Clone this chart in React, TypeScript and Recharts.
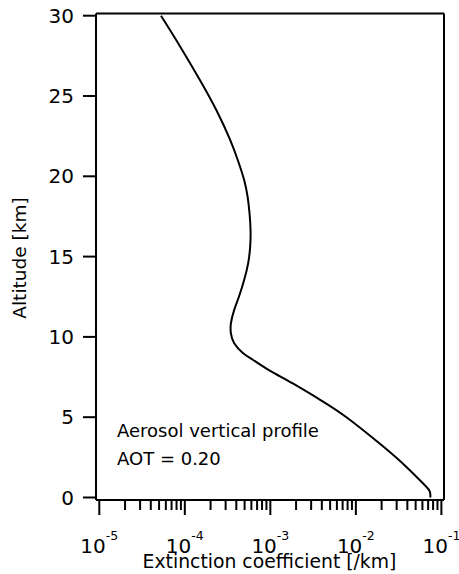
import React from "react";
import { LineChart, Line, XAxis, YAxis, ReferenceLine } from "recharts";

// Altitude [km] and extinction coefficient [/km]
const altitude = [0, 0.4, 0.9, 1.9, 3.2, 5.0, 6.1, 7.1, 7.9, 8.56, 8.98, 9.6, 10.22, 10.85, 11.68, 12.5, 13.54, 14.58, 15.62, 16.66, 17.7, 18.73, 19.77, 21.0, 22.3, 24.1, 26.0, 28.1, 30.0];
const extinction = [7.43e-2, 7.29e-2, 6.05e-2, 3.9e-2, 2.06e-2, 7.76e-3, 3.78e-3, 1.83e-3, 9.86e-4, 6.3e-4, 4.81e-4, 3.78e-4, 3.46e-4, 3.46e-4, 3.78e-4, 4.29e-4, 4.94e-4, 5.5e-4, 5.81e-4, 5.87e-4, 5.71e-4, 5.42e-4, 4.94e-4, 4.17e-4, 3.37e-4, 2.35e-4, 1.5e-4, 8.77e-5, 5.26e-5];

const yTicks = [0, 5, 10, 15, 20, 25, 30];
const xMajorTicks = [1e-5, 1e-4, 1e-3, 1e-2, 1e-1];
const xMajorExponents = [-5, -4, -3, -2, -1];
const minorMultipliers = [2, 3, 4, 5, 6, 7, 8, 9];
const xMinorTicks = xMajorTicks.slice(0, 4).flatMap((d) => minorMultipliers.map((m) => d * m));
const xTicks = [...xMajorTicks, ...xMinorTicks].sort((a, b) => a - b);
const xDomain = [9.15e-6, 0.1073];
const yDomain = [-0.156, 30.137];

const annotationLines = ["Aerosol vertical profile", "AOT = 0.20"];
const xTitle = "Extinction coefficient [/km]";
const yTitle = "Altitude [km]";

const data = altitude.map((a, i) => ({ alt: a, ext: extinction[i] }));

const FONT = "'DejaVu Sans', sans-serif";

const XTick = (props: any) => {
  const { x, y, payload } = props;
  const v = payload.value;
  const idx = xMajorTicks.findIndex((m) => Math.abs(m - v) / m < 1e-6);
  const major = idx >= 0;
  return (
    <g>
      <line x1={x} x2={x} y1={y} y2={y + (major ? 15 : 10)} stroke="#000" strokeWidth={2} />
      {major && (
        <text x={x} y={y + 53} textAnchor="middle" fontFamily={FONT} fontSize={20} fill="#000">
          <tspan>10</tspan>
          <tspan dy={-13} fontSize={12.5}>{String(xMajorExponents[idx])}</tspan>
        </text>
      )}
    </g>
  );
};

export default function App() {
  return (
    <div style={{ position: "absolute", left: 0, top: 0, width: 459, height: 574, background: "#fff" }}>
      <LineChart
        width={459}
        height={574}
        data={data}
        layout="vertical"
        margin={{ top: 13.5, right: 15, bottom: 0, left: 0 }}
      >
        <XAxis
          type="number"
          dataKey="ext"
          scale="log"
          domain={xDomain}
          allowDataOverflow
          ticks={xTicks}
          interval={0}
          tick={<XTick />}
          tickLine={false}
          tickSize={0}
          tickMargin={0}
          height={74}
          axisLine={{ stroke: "#000", strokeWidth: 2 }}
        />
        <YAxis
          type="number"
          dataKey="alt"
          domain={yDomain}
          allowDataOverflow
          reversed
          ticks={yTicks}
          interval={0}
          width={96}
          tickSize={13}
          tickMargin={9}
          tickLine={{ stroke: "#000", strokeWidth: 2 }}
          axisLine={{ stroke: "#000", strokeWidth: 2 }}
          tick={{ fontSize: 20, fill: "#000", fontFamily: FONT }}
        />
        <ReferenceLine y={yDomain[1]} stroke="#000" strokeWidth={2} />
        <ReferenceLine x={xDomain[1]} stroke="#000" strokeWidth={2} />
        <Line
          dataKey="ext"
          type="natural"
          stroke="#000"
          strokeWidth={2}
          dot={false}
          isAnimationActive={false}
        />
      </LineChart>
      <svg
        width={459}
        height={574}
        style={{ position: "absolute", left: 0, top: 0, pointerEvents: "none" }}
      >
        <text x={117} y={437} fontFamily={FONT} fontSize={18} fill="#000">{annotationLines[0]}</text>
        <text x={117} y={465} fontFamily={FONT} fontSize={18} fill="#000">{annotationLines[1]}</text>
        <text x={269.5} y={568} textAnchor="middle" fontFamily={FONT} fontSize={18.8} fill="#000">{xTitle}</text>
        <text
          x={26}
          y={258}
          textAnchor="middle"
          transform="rotate(-90 26 258)"
          fontFamily={FONT}
          fontSize={18.5}
          fill="#000"
        >
          {yTitle}
        </text>
      </svg>
    </div>
  );
}
